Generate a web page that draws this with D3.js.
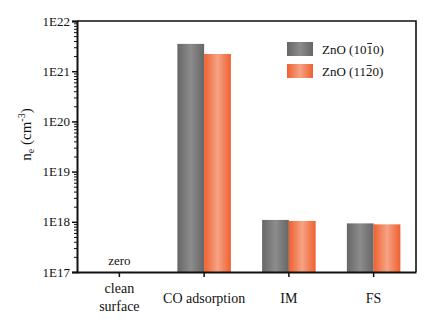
<!DOCTYPE html>
<html lang="en">
<head>
<meta charset="UTF-8">
<script src="https://cdn.jsdelivr.net/npm/d3@7"></script>
<style>
  body { margin: 0; background: #fff; }
  svg text { font-family: "Liberation Serif", "Times New Roman", serif; fill: #111; }
</style>
</head>
<body>
<div id="container"></div>
<script>
// data
var categories = ["clean surface", "CO adsorption", "IM", "FS"];
var series = ["ZnO (10-10)", "ZnO (11-20)"];
var zno1010 = [null, 3.5e21, 1.09e18, 9.3e17];
var zno1120 = [null, 2.2e21, 1.04e18, 8.9e17];
var yTicks = [1e17, 1e18, 1e19, 1e20, 1e21, 1e22];

var W = 448, H = 319;
var margin = {top: 21, left: 77, right: 32, bottom: 47};
var chart_width = W - margin.left - margin.right,
    chart_height = H - margin.top - margin.bottom;

var svg = d3.select("#container").append("svg")
    .attr("width", W).attr("height", H);

var defs = svg.append("defs");
function grad(id, edge, mid) {
    var g = defs.append("linearGradient").attr("id", id)
        .attr("x1", "0%").attr("x2", "100%").attr("y1", "0%").attr("y2", "0%");
    g.append("stop").attr("offset", "0%").attr("stop-color", edge);
    g.append("stop").attr("offset", "50%").attr("stop-color", mid);
    g.append("stop").attr("offset", "100%").attr("stop-color", edge);
}
grad("g0", "#666666", "#8c8c8c");
grad("g1", "#f0602f", "#f5a385");
var fills = ["url(#g0)", "url(#g1)"];

var chart = svg.append("g")
    .attr("transform", `translate(${margin.left},${margin.top})`);

var x = d3.scaleBand().domain(categories).range([0, chart_width]);
var x1 = d3.scaleBand().domain(series)
    .range([(x.bandwidth() - 53.5) / 2, (x.bandwidth() + 53.5) / 2]);
var y = d3.scaleLog().domain([1e17, 1e22]).range([chart_height, 0]);

// bars
var rows = categories.map(function(c, i) {
    return {cat: c, vals: [zno1010[i], zno1120[i]]};
});
var grp = chart.selectAll(".bar").data(rows).enter().append("g")
    .attr("class", "bar")
    .attr("transform", d => `translate(${x(d.cat)},0)`);
grp.selectAll("rect")
    .data(d => d.vals.map((v, j) => ({s: series[j], v: v, j: j})).filter(e => e.v != null))
    .enter().append("rect")
    .attr("x", d => x1(d.s))
    .attr("width", x1.bandwidth())
    .attr("y", d => y(d.v))
    .attr("height", d => chart_height - y(d.v))
    .attr("fill", d => fills[d.j]);

// "zero" label for clean surface
chart.append("text")
    .attr("x", x("clean surface") + x.bandwidth() / 2)
    .attr("y", chart_height - 7)
    .attr("text-anchor", "middle")
    .style("font-size", "13px")
    .text("zero");

// frame top/right
chart.append("path")
    .attr("d", `M0,0H${chart_width}V${chart_height}`)
    .attr("fill", "none").attr("stroke", "#111").attr("stroke-width", 1.6);

// y axis minor ticks
var minor = y.ticks().filter(t => yTicks.indexOf(t) < 0);
chart.append("g")
    .call(d3.axisLeft(y).tickValues(minor).tickSize(3).tickFormat(""))
    .call(g => g.select(".domain").remove())
    .selectAll("line").attr("stroke", "#111").attr("stroke-width", 1);

// y axis major
var yAxis = chart.append("g")
    .call(d3.axisLeft(y).tickValues(yTicks).tickSize(5).tickPadding(2)
        .tickFormat(d => "1E" + Math.round(Math.log10(d))));
yAxis.select(".domain").attr("stroke-width", 2).attr("stroke", "#111");
yAxis.selectAll("line").attr("stroke-width", 1.5).attr("stroke", "#111");
yAxis.selectAll("text").style("font-size", "13px").attr("fill", "#222");

// x axis
var xAxis = chart.append("g")
    .attr("transform", `translate(0,${chart_height})`)
    .call(d3.axisBottom(x).tickSize(5).tickSizeOuter(0).tickFormat(""));
xAxis.select(".domain").attr("stroke-width", 2).attr("stroke", "#111");
xAxis.selectAll("line").attr("stroke-width", 1.5).attr("stroke", "#111");

// category labels
var xl = chart.append("g").attr("transform", `translate(0,${chart_height})`);
categories.forEach(function(c) {
    var t = xl.append("text")
        .attr("x", x(c) + x.bandwidth() / 2)
        .attr("text-anchor", "middle")
        .style("font-size", "14px");
    if (c === "clean surface") {
        t.append("tspan").attr("x", x(c) + x.bandwidth() / 2).attr("y", 21).text("clean");
        t.append("tspan").attr("x", x(c) + x.bandwidth() / 2).attr("y", 39).text("surface");
    } else {
        t.attr("y", 31).text(c);
    }
});

// y axis title
var yt = svg.append("text")
    .attr("transform", `translate(31,${margin.top + chart_height / 2 - 12}) rotate(-90)`)
    .attr("text-anchor", "middle")
    .style("font-size", "15px");
yt.append("tspan").text("n");
yt.append("tspan").attr("dy", 3).style("font-size", "10px").text("e");
yt.append("tspan").attr("dy", -3).text(" (cm");
yt.append("tspan").attr("dy", -6).style("font-size", "10px").text("-3");
yt.append("tspan").attr("dy", 6).text(")");

// legend
var legend = svg.append("g").attr("transform", "translate(287,42)");
var legLabels = ["ZnO (1010)", "ZnO (1120)"];
var barIndex = 7; // digit carrying the bar in Miller-Bravais notation
legLabels.forEach(function(p, i) {
    var g = legend.append("g").attr("transform", `translate(0,${i * 22})`);
    g.append("rect").attr("width", 26).attr("height", 14).attr("fill", fills[i]);
    var t = g.append("text").attr("x", 35).attr("y", 11.5).style("font-size", "13px")
        .style("font-family", "'Liberation Serif', 'Times New Roman', serif")
        .text(p);
    var n = t.node();
    var s = n.getStartPositionOfChar(barIndex).x, e = n.getEndPositionOfChar(barIndex).x;
    g.append("line").attr("x1", s + 0.8).attr("x2", e - 0.8)
        .attr("y1", 1.5).attr("y2", 1.5)
        .attr("stroke", "#111").attr("stroke-width", 0.9);
});

svg.selectAll("text").style("font-family", "'Liberation Serif', 'Times New Roman', serif");
</script>
</body>
</html>
